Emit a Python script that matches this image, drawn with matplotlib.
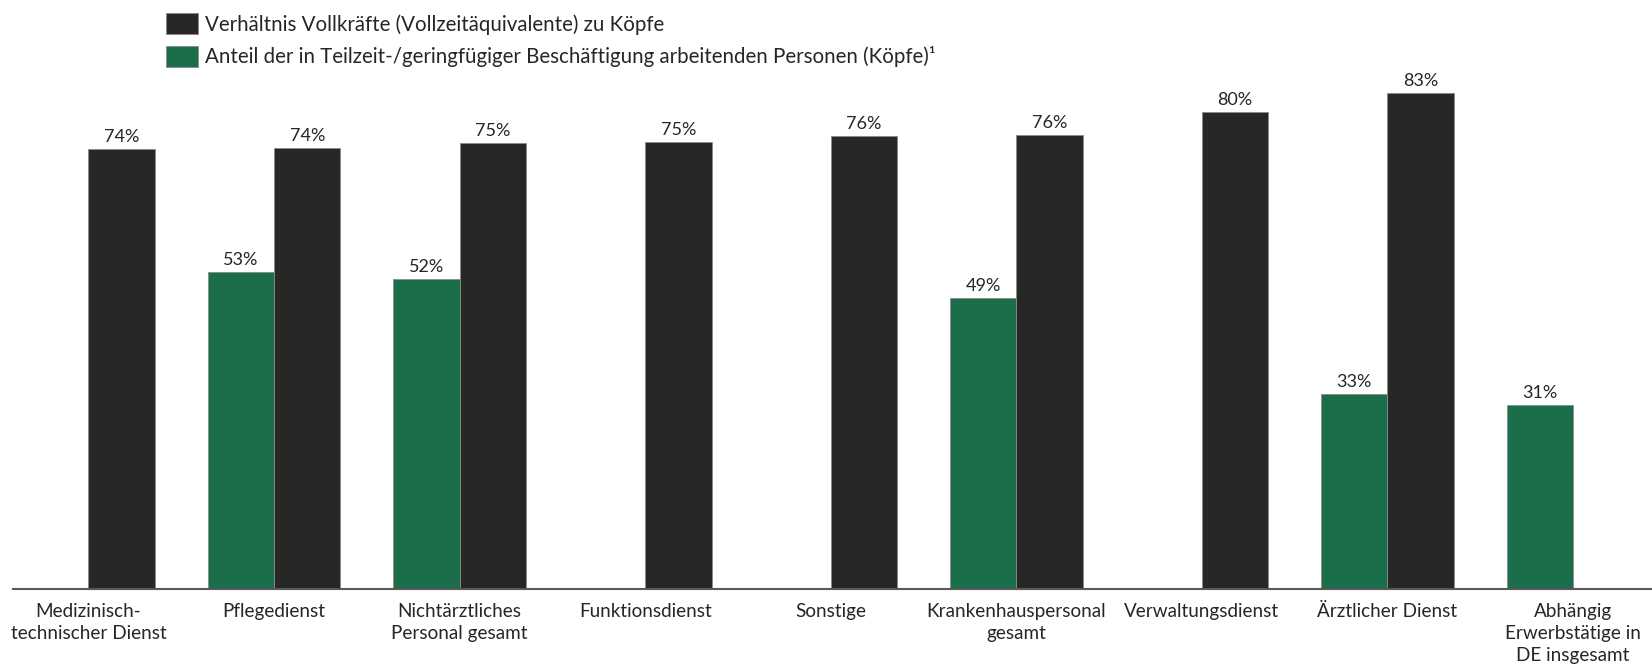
import numpy as np
import matplotlib.pyplot as plt

plt.rcParams['font.family'] = ['Lato', 'DejaVu Sans']

categories = ['Medizinisch-\ntechnischer Dienst', 'Pflegedienst', 'Nichtärztliches\nPersonal gesamt',
              'Funktionsdienst', 'Sonstige', 'Krankenhauspersonal\ngesamt', 'Verwaltungsdienst',
              'Ärztlicher Dienst', 'Abhängig\nErwerbstätige in\nDE insgesamt']
vollkraefte = [73.6, 73.8, 74.6, 74.7, 75.8, 75.9, 79.8, 83.0, np.nan]
teilzeit = [np.nan, 53.0, 51.8, np.nan, np.nan, 48.6, np.nan, 32.6, 30.7]

label_black = 'Verhältnis Vollkräfte (Vollzeitäquivalente) zu Köpfe'
label_green = 'Anteil der in Teilzeit-/geringfügiger Beschäftigung arbeitenden Personen (Köpfe)¹'

c_black = '#272725'
c_green = '#1a6e4a'

fig = plt.figure(figsize=(16.52, 6.70), dpi=100)
ax = fig.add_axes([0.0076, 0.1209, 0.9924, 0.803])

x = np.arange(len(categories))
w = 0.358
vk = np.array(vollkraefte)
tz = np.array(teilzeit)
mk = ~np.isnan(vk)
mt = ~np.isnan(tz)

b1 = ax.bar(x[mk] + w / 2, vk[mk], w, color=c_black, edgecolor='#8a8a8a', linewidth=0.6, label=label_black)
b2 = ax.bar(x[mt] - w / 2, tz[mt], w, color=c_green, edgecolor='#8a8a8a', linewidth=0.6, label=label_green)

ax.bar_label(b1, labels=[f'{v:.0f}%' for v in vk[mk]], padding=3, fontsize=13, color='#262626')
ax.bar_label(b2, labels=[f'{v:.0f}%' for v in tz[mt]], padding=3, fontsize=13, color='#262626')

ax.set_xlim(-0.409, 8.426)
ax.set_ylim(0, 90)
ax.set_xticks(x)
ax.set_xticklabels(categories, fontsize=13.6, color='#262626', linespacing=1.35)
ax.tick_params(axis='x', length=0, pad=10)
ax.set_yticks([])
for s in ['top', 'right', 'left']:
    ax.spines[s].set_visible(False)
ax.spines['bottom'].set_color('#595959')
ax.spines['bottom'].set_linewidth(1.5)

fig.legend(handles=[b1, b2], loc='upper left', bbox_to_anchor=(0.1005, 0.98), frameon=False,
           fontsize=14.8, handlelength=1.55, handleheight=1.17, handletextpad=0.35, labelspacing=0.55,
           borderpad=0, borderaxespad=0, labelcolor='#262626')

fig.savefig('out.png', dpi=100)
